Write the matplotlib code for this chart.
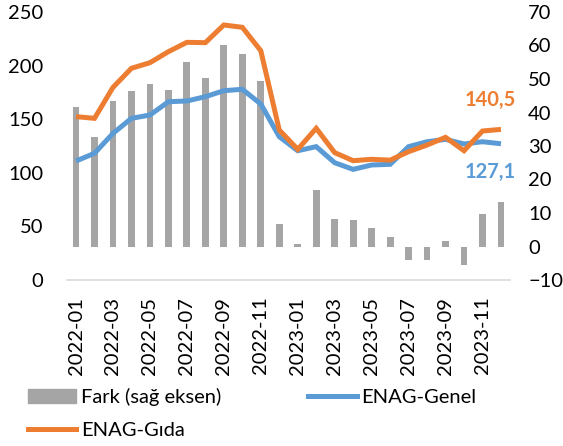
import matplotlib
matplotlib.use("Agg")
import matplotlib.pyplot as plt
from matplotlib.patches import Patch
from matplotlib.lines import Line2D

plt.rcParams['font.family'] = ['Lato', 'DejaVu Sans']

months = ["2022-01","2022-02","2022-03","2022-04","2022-05","2022-06",
          "2022-07","2022-08","2022-09","2022-10","2022-11","2022-12",
          "2023-01","2023-02","2023-03","2023-04","2023-05","2023-06",
          "2023-07","2023-08","2023-09","2023-10","2023-11","2023-12"]
fark = [41.5, 32.6, 43.4, 46.5, 48.5, 46.6, 55.1, 50.3, 60.2, 57.5, 49.4, 6.6,
        0.7, 16.9, 8.2, 7.9, 5.4, 2.8, -4.0, -4.0, 1.7, -5.5, 9.7, 13.4]
gida = [152.4, 150.8, 179.7, 197.5, 202.7, 213.0, 221.7, 221.4, 237.9, 235.7, 213.9, 139.9,
        121.9, 141.5, 118.8, 111.3, 112.6, 111.8, 119.7, 125.9, 133.1, 120.6, 139.0, 140.5]
genel = [111.0, 118.2, 136.8, 150.8, 153.9, 166.3, 167.0, 171.0, 176.6, 177.9, 164.2, 133.7,
         120.6, 124.4, 109.4, 103.2, 107.3, 107.9, 124.4, 129.0, 131.2, 126.9, 129.0, 127.1]
labels_end = ["140,5", "127,1"]

c_orange = "#ED7D31"
c_blue = "#5B9BD5"
c_gray = "#A5A5A5"
fs = 14.5

fig = plt.figure(figsize=(5.63, 4.46), dpi=100)
ax = fig.add_axes([66.8/563, 1-280/446, (510.2-66.8)/563, 268/446])
ax2 = ax.twinx()
x = list(range(len(months)))

ax2.bar(x, fark, width=0.37, color=c_gray, zorder=2)
ax.plot(x, genel, color=c_blue, lw=3.6, solid_capstyle='butt', solid_joinstyle='miter', zorder=3)
ax.plot(x, gida, color=c_orange, lw=3.6, solid_capstyle='butt', solid_joinstyle='miter', zorder=4)

ax.set_zorder(ax2.get_zorder() + 1)
ax.patch.set_visible(False)

ax.set_xlim(-0.5, len(months) - 0.5)
ax.set_ylim(0, 250)
ax2.set_ylim(-10, 70)
ax.set_yticks([0, 50, 100, 150, 200, 250])
ax2.set_yticks([-10, 0, 10, 20, 30, 40, 50, 60, 70])
ax.set_xticks(x[::2])
ax.set_xticklabels(months[::2], rotation=90)

for a in (ax, ax2):
    for s in a.spines.values():
        s.set_visible(False)
    a.tick_params(length=0, labelsize=fs, colors="#000000")
ax.spines['bottom'].set_visible(True)
ax.spines['bottom'].set_color("#D9D9D9")
ax.spines['bottom'].set_linewidth(1.2)
ax.tick_params(axis='y', pad=17)
ax2.tick_params(axis='y', pad=13)
ax.tick_params(axis='x', pad=12)

ax.text(x[-1] + 0.8, gida[-1] + 27, labels_end[0], color=c_orange, fontsize=fs,
        fontweight='bold', ha='right', va='center')
ax.text(x[-1] + 0.8, genel[-1] - 26, labels_end[1], color=c_blue, fontsize=fs,
        fontweight='bold', ha='right', va='center')

handles = [Patch(color=c_gray, label="Fark (sağ eksen)"),
           Line2D([], [], color=c_orange, lw=3.6, label="ENAG-Gıda"),
           Line2D([], [], color=c_blue, lw=3.6, label="ENAG-Genel")]
fig.legend(handles=handles, ncol=2, loc='upper left', bbox_to_anchor=(28/563, 1-388/446),
           frameon=False, fontsize=fs, handlelength=2.4, handletextpad=0.25,
           columnspacing=4.3, labelspacing=0.8, borderaxespad=0, borderpad=0)

fig.savefig("out.png", dpi=100)
